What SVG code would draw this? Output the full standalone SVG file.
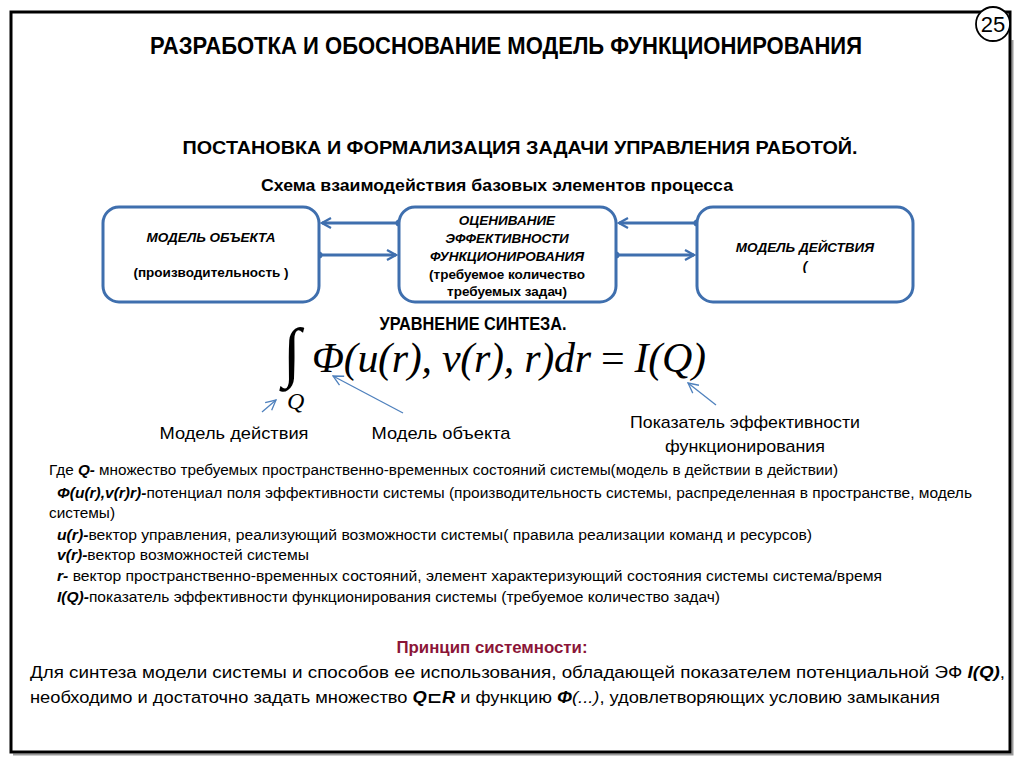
<svg xmlns="http://www.w3.org/2000/svg" width="1024" height="767" viewBox="0 0 1024 767">
<defs>
<style>
.sans{font-family:"Liberation Sans","DejaVu Sans",sans-serif;fill:#000}
.b{font-weight:bold}
.i{font-style:italic}
.box{fill:#fff;stroke:#3F6FAE;stroke-width:3}
.conn{stroke:#3F6FAE;stroke-width:3;fill:none}
.thin{stroke:#4F81BD;stroke-width:1.3;fill:none}
.math{font-family:"Liberation Serif","Times New Roman",serif;font-style:italic;fill:#000}
.bt{font-size:13.5px}
.def{font-size:15.5px}
.lbl{font-size:17px}
</style>
<marker id="ah" viewBox="0 0 12 12" refX="10" refY="6" markerWidth="12" markerHeight="12" markerUnits="userSpaceOnUse" orient="auto">
<path d="M1,1 L10,6 L1,11" fill="none" stroke="#3F6FAE" stroke-width="2.2"/>
</marker>
<marker id="ah2" viewBox="0 0 12 12" refX="11" refY="6" markerWidth="12" markerHeight="12" markerUnits="userSpaceOnUse" orient="auto">
<path d="M1,1 L11,6 L1,11" fill="none" stroke="#4F81BD" stroke-width="1.3"/>
</marker>
</defs>
<rect width="1024" height="767" fill="#fff"/>
<g id="frame">
<path d="M13,754.5 H1012.5 V40" fill="none" stroke="#9a9a9a" stroke-width="2"/>
<rect x="11" y="12" width="999" height="740" fill="none" stroke="#000" stroke-width="3"/>
<circle cx="993" cy="24" r="17" fill="#fff" stroke="#000" stroke-width="1.8"/>
<text x="993" y="32" text-anchor="middle" font-family="Liberation Sans, sans-serif" font-size="22" fill="#000">25</text>
</g>
<g id="titles">
<text class="sans b" x="506" y="54" text-anchor="middle" font-size="24" textLength="712" lengthAdjust="spacingAndGlyphs">РАЗРАБОТКА И ОБОСНОВАНИЕ МОДЕЛЬ ФУНКЦИОНИРОВАНИЯ</text>
<text class="sans b" x="520" y="154" text-anchor="middle" font-size="19" textLength="675" lengthAdjust="spacingAndGlyphs">ПОСТАНОВКА  И ФОРМАЛИЗАЦИЯ ЗАДАЧИ  УПРАВЛЕНИЯ РАБОТОЙ.</text>
<text class="sans b" x="497" y="191" text-anchor="middle" font-size="16" textLength="472" lengthAdjust="spacingAndGlyphs">Схема взаимодействия базовых элементов процесса</text>
</g>
<g id="connectors">
<line class="conn" x1="399" y1="223" x2="322" y2="223" marker-end="url(#ah)"/>
<circle cx="399" cy="223" r="3.5" fill="#3F6FAE"/>
<line class="conn" x1="319" y1="255" x2="396" y2="255" marker-end="url(#ah)"/>
<circle cx="319" cy="255" r="3.5" fill="#3F6FAE"/>
<line class="conn" x1="697" y1="223" x2="619" y2="223" marker-end="url(#ah)"/>
<circle cx="697" cy="223" r="3.5" fill="#3F6FAE"/>
<line class="conn" x1="616" y1="255" x2="694" y2="255" marker-end="url(#ah)"/>
<circle cx="616" cy="255" r="3.5" fill="#3F6FAE"/>
<line class="thin" x1="262" y1="412" x2="276" y2="400" marker-end="url(#ah2)"/>
<line class="thin" x1="403" y1="413" x2="333" y2="376" marker-end="url(#ah2)"/>
<line class="thin" x1="716" y1="405" x2="688" y2="383" marker-end="url(#ah2)"/>
</g>
<g id="node-model-object">
<rect class="box" x="103" y="207" width="216" height="95" rx="16"/>
<text class="sans b i bt" x="211" y="242" text-anchor="middle">МОДЕЛЬ  ОБЪЕКТА</text>
<text class="sans b bt" x="211" y="277" text-anchor="middle">(производительность )</text>
</g>
<g id="node-evaluation">
<rect class="box" x="399" y="207" width="217" height="95" rx="16"/>
<text class="sans b i bt" x="507" y="225" text-anchor="middle">ОЦЕНИВАНИЕ</text>
<text class="sans b i bt" x="507" y="243" text-anchor="middle">ЭФФЕКТИВНОСТИ</text>
<text class="sans b i bt" x="507" y="261" text-anchor="middle">ФУНКЦИОНИРОВАНИЯ</text>
<text class="sans b bt" x="507" y="279" text-anchor="middle">(требуемое количество</text>
<text class="sans b bt" x="507" y="296" text-anchor="middle">требуемых задач)</text>
</g>
<g id="node-model-action">
<rect class="box" x="697" y="207" width="216" height="95" rx="16"/>
<text class="sans b i bt" x="805" y="252" text-anchor="middle">МОДЕЛЬ ДЕЙСТВИЯ</text>
<text class="sans b i bt" x="805" y="270" text-anchor="middle">(</text>
</g>
<g id="equation">
<text class="sans b" x="473" y="330" text-anchor="middle" font-size="18" textLength="187" lengthAdjust="spacingAndGlyphs">УРАВНЕНИЕ СИНТЕЗА.</text>
<text x="283" y="374" font-family="Liberation Serif, serif" font-size="66" fill="#000">∫</text>
<text class="math" x="312" y="372" font-size="42" textLength="394" lengthAdjust="spacing">Φ(u(r), v(r), r)dr <tspan font-style="normal">=</tspan> I(Q)</text>
<text class="math" x="287" y="409" font-size="24">Q</text>
<text class="sans lbl" x="234" y="439" text-anchor="middle" textLength="149" lengthAdjust="spacingAndGlyphs">Модель действия</text>
<text class="sans lbl" x="441" y="439" text-anchor="middle" textLength="139" lengthAdjust="spacingAndGlyphs">Модель объекта</text>
<text class="sans lbl" x="745" y="428" text-anchor="middle" textLength="230" lengthAdjust="spacingAndGlyphs">Показатель эффективности</text>
<text class="sans lbl" x="745" y="452" text-anchor="middle" textLength="160" lengthAdjust="spacingAndGlyphs">функционирования</text>
</g>
<g id="definitions">
<text class="sans def" x="49" y="475" textLength="789" lengthAdjust="spacingAndGlyphs">Где <tspan class="b i">Q-</tspan> множество требуемых пространственно-временных состояний системы(модель в действии  в действии)</text>
<text class="sans def" x="57" y="498" textLength="915" lengthAdjust="spacingAndGlyphs"><tspan class="b i">Φ(u(r),v(r)r)-</tspan>потенциал поля эффективности системы (производительность системы, распределенная в пространстве, модель</text>
<text class="sans def" x="49" y="518" textLength="66" lengthAdjust="spacingAndGlyphs">системы)</text>
<text class="sans def" x="57" y="540" textLength="755" lengthAdjust="spacingAndGlyphs"><tspan class="b i">u(r)-</tspan>вектор управления, реализующий возможности системы( правила реализации команд и ресурсов)</text>
<text class="sans def" x="57" y="560" textLength="252" lengthAdjust="spacingAndGlyphs"><tspan class="b i">v(r)-</tspan>вектор возможностей системы</text>
<text class="sans def" x="57" y="581" textLength="825" lengthAdjust="spacingAndGlyphs"><tspan class="b i">r-</tspan> вектор пространственно-временных состояний, элемент характеризующий  состояния системы система/время</text>
<text class="sans def" x="57" y="602" textLength="663" lengthAdjust="spacingAndGlyphs"><tspan class="b i">I(Q)-</tspan>показатель эффективности функционирования системы (требуемое количество задач)</text>
</g>
<g id="principle">
<text class="sans b" x="492" y="653" text-anchor="middle" font-size="16" style="fill:#8B1538" textLength="191" lengthAdjust="spacingAndGlyphs">Принцип системности:</text>
<text class="sans" x="30" y="678" font-size="16" textLength="975" lengthAdjust="spacingAndGlyphs">Для синтеза модели системы и способов ее использования, обладающей показателем   потенциальной ЭФ <tspan class="b i">I(Q)</tspan>,</text>
<text class="sans" x="30" y="703" font-size="16" textLength="910" lengthAdjust="spacingAndGlyphs">необходимо и достаточно задать множество <tspan class="b i">Q⊏R</tspan> и функцию <tspan class="b i">Φ</tspan><tspan class="i">(...)</tspan>, удовлетворяющих условию замыкания</text>
</g>
</svg>
